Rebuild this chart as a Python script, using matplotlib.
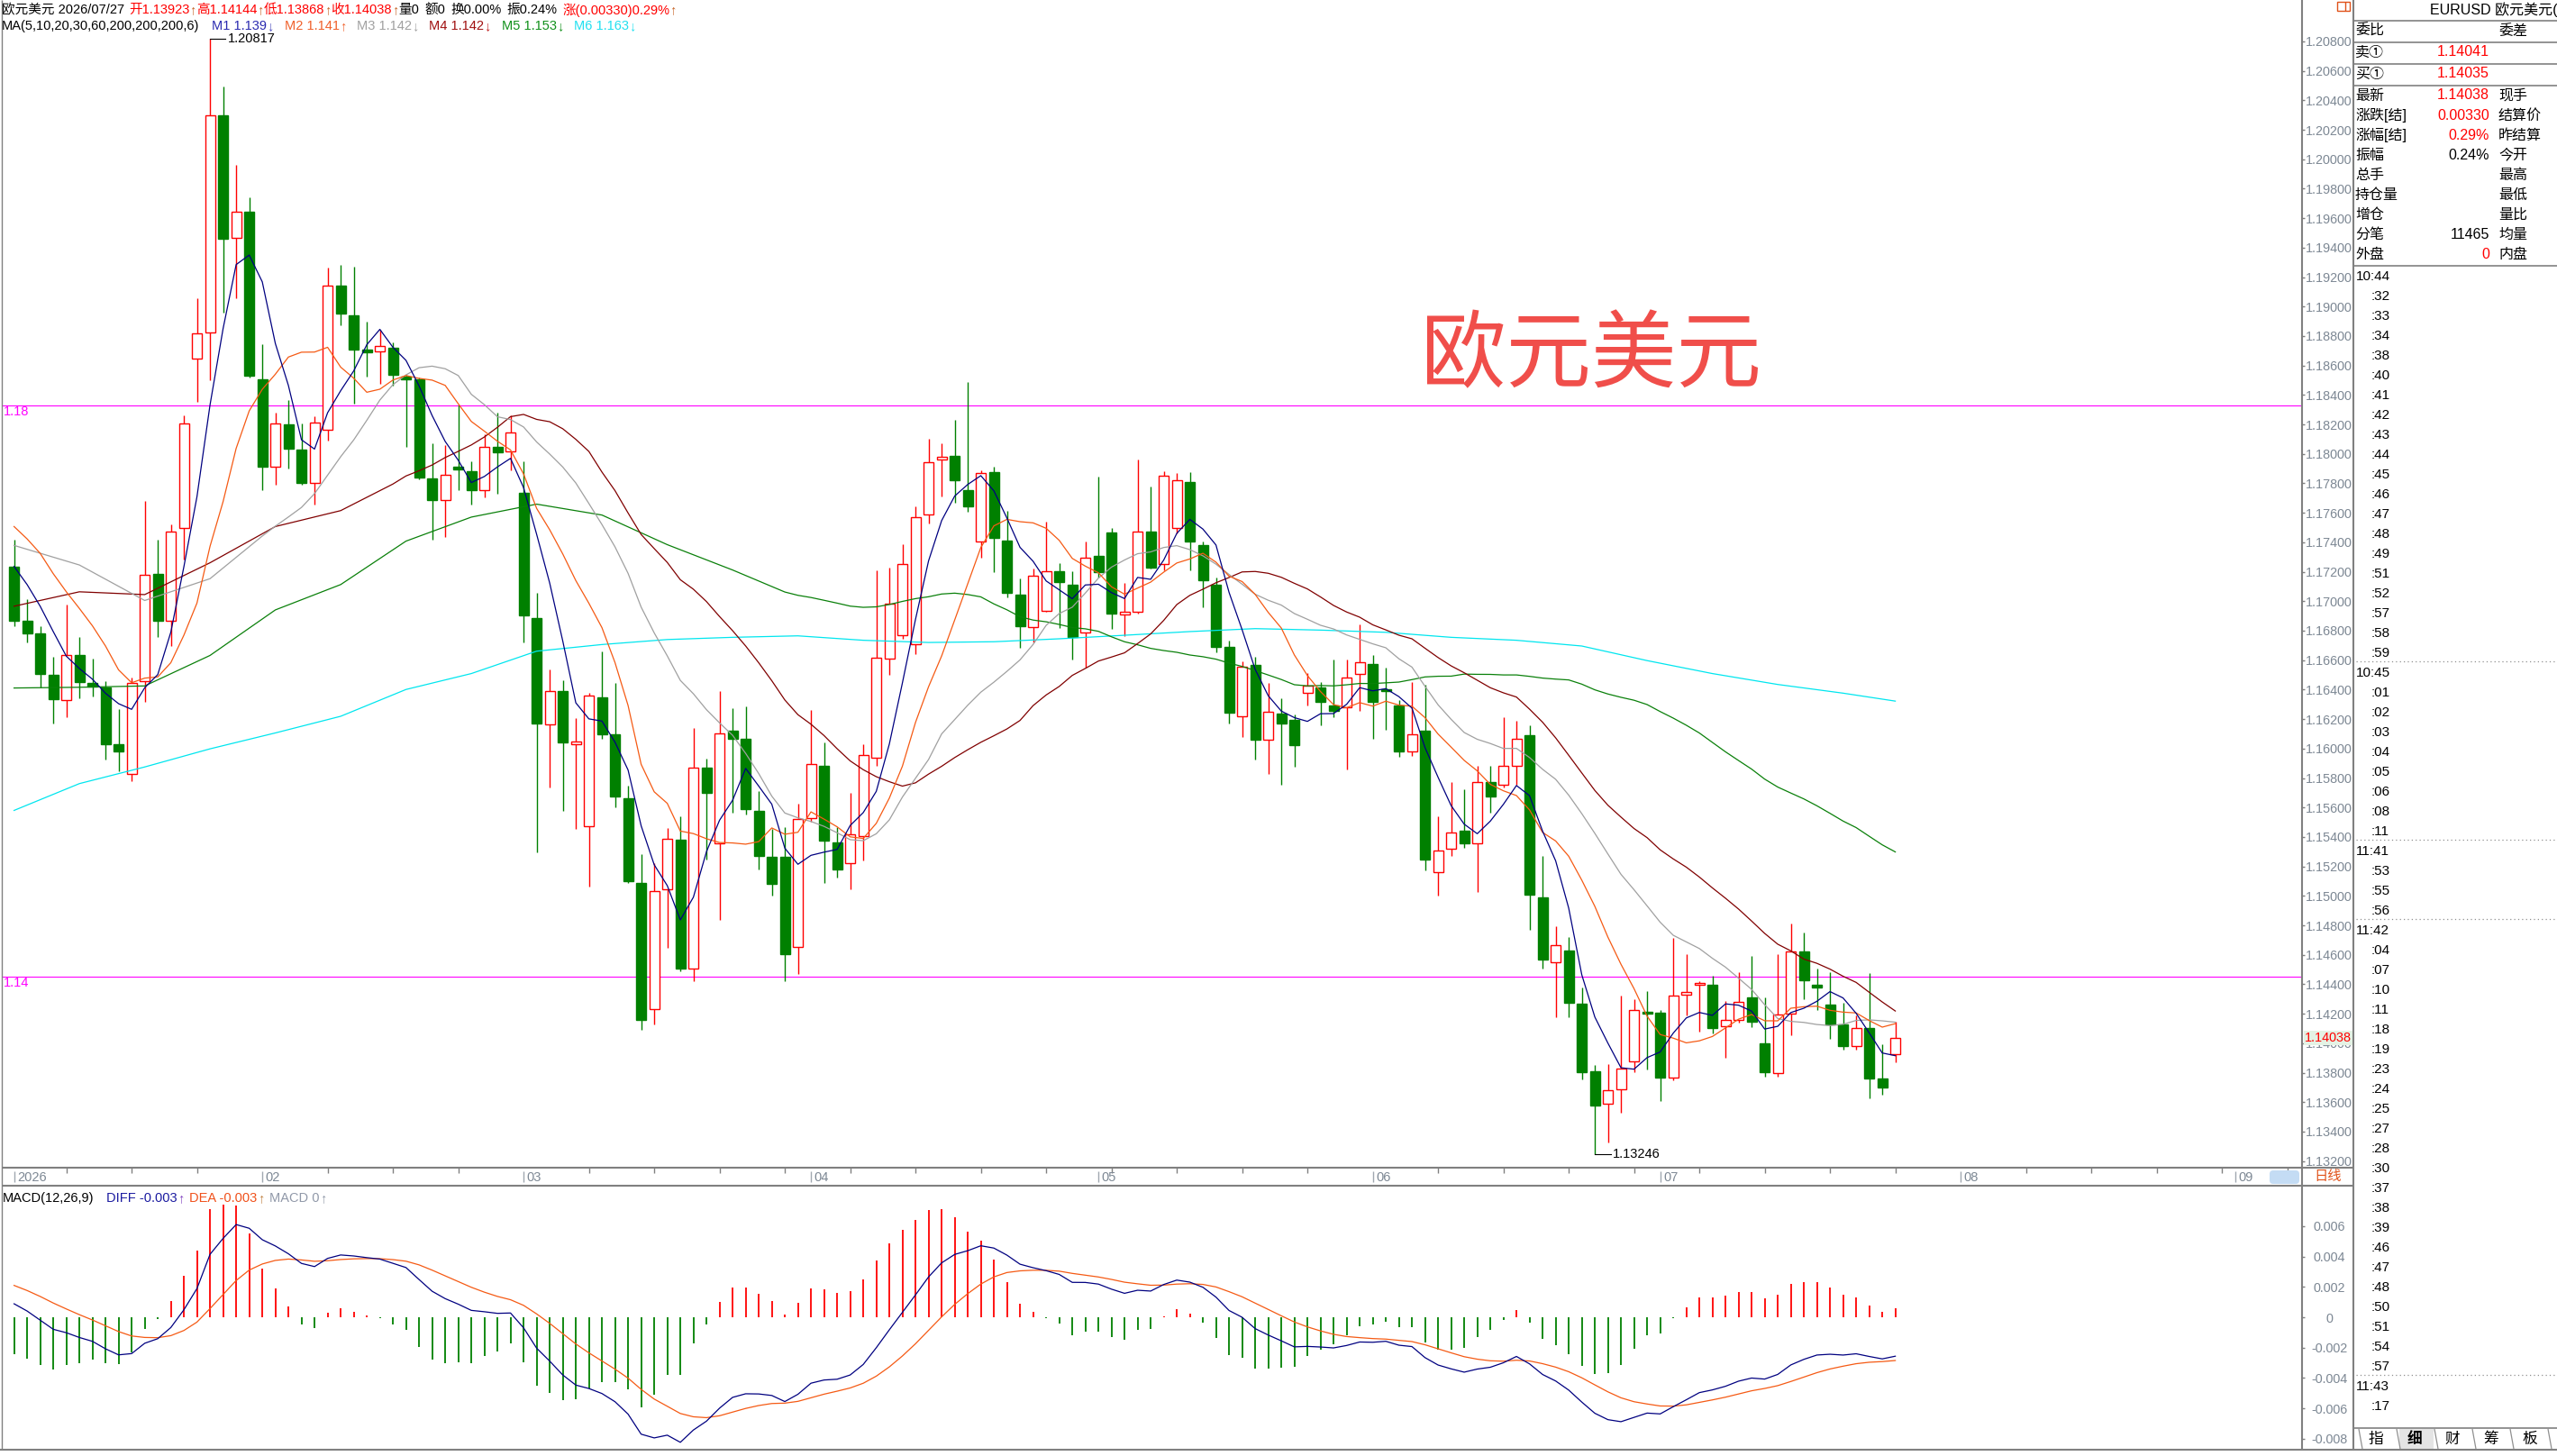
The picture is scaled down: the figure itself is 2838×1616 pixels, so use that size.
import numpy as np
import pandas as pd
import matplotlib
matplotlib.use('Agg')
import matplotlib.pyplot as plt
from matplotlib.patches import Rectangle, FancyBboxPatch

plt.rcParams['font.family'] = ['Liberation Sans', 'Noto Sans CJK SC', 'DejaVu Sans']
plt.rcParams['axes.unicode_minus'] = False

# ---------------- data ----------------
dates = pd.bdate_range('2026-01-06', '2026-07-27')
axis_dates = pd.bdate_range('2026-01-06', '2026-09-30')

opens = [1.17236, 1.16868, 1.16779, 1.16499, 1.16327, 1.16637, 1.16445, 1.16416, 1.16027, 1.15826,
         1.16455, 1.17187, 1.16868, 1.17497, 1.18647, 1.18824, 1.20298, 1.19468, 1.19645, 1.18509,
         1.17915, 1.18200, 1.18028, 1.17802, 1.18165, 1.19143, 1.18942, 1.18711, 1.18696, 1.18721,
         1.18524, 1.18509, 1.17831, 1.17684, 1.17910, 1.17885, 1.17752, 1.18047, 1.18018, 1.17733,
         1.16887, 1.16165, 1.16391, 1.16032, 1.15472, 1.16347, 1.16096, 1.15664, 1.15088, 1.14233,
         1.15044, 1.15383, 1.14504, 1.15870, 1.15359, 1.16121, 1.16067, 1.15575, 1.15265, 1.15265,
         1.14651, 1.15526, 1.15885, 1.15364, 1.15221, 1.15403, 1.15939, 1.16612, 1.16769, 1.16710,
         1.17590, 1.17959, 1.17988, 1.17757, 1.17408, 1.17875, 1.17413, 1.17045, 1.16823, 1.16932,
         1.17202, 1.17113, 1.16789, 1.17310, 1.17467, 1.16912, 1.16927, 1.17472, 1.17251, 1.17497,
         1.17811, 1.17379, 1.17109, 1.16691, 1.16219, 1.16568, 1.16057, 1.16239, 1.16194, 1.16376,
         1.16416, 1.16293, 1.16278, 1.16509, 1.16573, 1.16401, 1.16293, 1.15978, 1.16121, 1.15162,
         1.15320, 1.15442, 1.15359, 1.15772, 1.15757, 1.15885, 1.16091, 1.14990, 1.14548, 1.14626,
         1.14268, 1.13811, 1.13589, 1.13688, 1.13879, 1.14214, 1.14209, 1.13766, 1.14327, 1.14395,
         1.14395, 1.14115, 1.14155, 1.14312, 1.13997, 1.13796, 1.14199, 1.14622, 1.14395, 1.14263,
         1.14125, 1.13978, 1.14101, 1.13761, 1.13923]
highs = [1.17418, 1.17015, 1.16828, 1.16622, 1.16976, 1.16760, 1.16612, 1.16460, 1.16268, 1.16484,
         1.17679, 1.17418, 1.17521, 1.18259, 1.19055, 1.20817, 1.20495, 1.19964, 1.19743, 1.18745,
         1.18283, 1.18367, 1.18205, 1.18254, 1.19266, 1.19286, 1.19271, 1.18898, 1.18843, 1.18760,
         1.18539, 1.18519, 1.18072, 1.18062, 1.18337, 1.17949, 1.18136, 1.18283, 1.18259, 1.17949,
         1.17055, 1.16538, 1.16465, 1.16204, 1.16376, 1.16661, 1.16445, 1.15747, 1.15285, 1.15221,
         1.15462, 1.15541, 1.16140, 1.15934, 1.16391, 1.16273, 1.16288, 1.15713, 1.15452, 1.15467,
         1.15624, 1.16263, 1.16042, 1.15467, 1.15698, 1.16032, 1.17212, 1.17231, 1.17389, 1.17644,
         1.18101, 1.18072, 1.18229, 1.18490, 1.17890, 1.17910, 1.17615, 1.17153, 1.17222, 1.17541,
         1.17261, 1.17202, 1.17403, 1.17846, 1.17497, 1.17123, 1.17959, 1.17777, 1.17880, 1.17870,
         1.17875, 1.17408, 1.17163, 1.16730, 1.16592, 1.16622, 1.16445, 1.16342, 1.16229, 1.16514,
         1.16450, 1.16602, 1.16602, 1.16843, 1.16637, 1.16548, 1.16327, 1.16450, 1.16435, 1.15541,
         1.15772, 1.15723, 1.15885, 1.15885, 1.16214, 1.16189, 1.16155, 1.15270, 1.14794, 1.14720,
         1.14376, 1.13855, 1.13860, 1.14322, 1.14297, 1.14351, 1.14224, 1.14715, 1.14607, 1.14420,
         1.14459, 1.14287, 1.14484, 1.14592, 1.14312, 1.14602, 1.14813, 1.14754, 1.14509, 1.14484,
         1.14273, 1.14189, 1.14474, 1.13992, 1.14144]
lows = [1.16828, 1.16720, 1.16416, 1.16170, 1.16214, 1.16342, 1.16352, 1.15924, 1.15845, 1.15777,
        1.16317, 1.16755, 1.16696, 1.17286, 1.18352, 1.18500, 1.18957, 1.19055, 1.18520, 1.17752,
        1.17792, 1.17900, 1.17792, 1.17654, 1.18092, 1.18873, 1.18342, 1.18524, 1.18475, 1.18465,
        1.18047, 1.17826, 1.17418, 1.17433, 1.17752, 1.17654, 1.17703, 1.17728, 1.17890, 1.16720,
        1.15295, 1.15737, 1.15575, 1.15452, 1.15064, 1.16067, 1.15600, 1.15088, 1.14091, 1.14125,
        1.14646, 1.14489, 1.14420, 1.15246, 1.14838, 1.15565, 1.15550, 1.15182, 1.15005, 1.14420,
        1.14469, 1.15501, 1.15088, 1.15123, 1.15044, 1.15241, 1.15885, 1.16499, 1.16745, 1.16642,
        1.17526, 1.17713, 1.17669, 1.17605, 1.17295, 1.17197, 1.17025, 1.16686, 1.16720, 1.16927,
        1.16818, 1.16607, 1.16548, 1.17163, 1.16814, 1.16764, 1.16917, 1.17222, 1.17212, 1.17458,
        1.17212, 1.16956, 1.16651, 1.16170, 1.16081, 1.15924, 1.15826, 1.15757, 1.15875, 1.16293,
        1.16155, 1.16214, 1.15860, 1.16253, 1.16067, 1.16130, 1.15944, 1.15949, 1.15172, 1.15000,
        1.15270, 1.15329, 1.15025, 1.15565, 1.15737, 1.15752, 1.14769, 1.14509, 1.14174, 1.14179,
        1.13757, 1.13246, 1.13329, 1.13526, 1.13806, 1.13820, 1.13609, 1.13747, 1.14189, 1.14076,
        1.14066, 1.13904, 1.14140, 1.14110, 1.13771, 1.13771, 1.14056, 1.14297, 1.14228, 1.14027,
        1.13958, 1.13958, 1.13624, 1.13648, 1.13868]
closes = [1.16868, 1.16784, 1.16509, 1.16337, 1.16637, 1.16450, 1.16421, 1.16032, 1.15983, 1.16445,
          1.17182, 1.16868, 1.17472, 1.18205, 1.18819, 1.20298, 1.19458, 1.19645, 1.18529, 1.17910,
          1.18205, 1.18033, 1.17802, 1.18214, 1.19143, 1.18952, 1.18706, 1.18691, 1.18735, 1.18534,
          1.18509, 1.17841, 1.17684, 1.17856, 1.17895, 1.17752, 1.18047, 1.18008, 1.18146, 1.16902,
          1.16170, 1.16391, 1.16042, 1.16047, 1.16357, 1.16096, 1.15673, 1.15098, 1.14155, 1.15034,
          1.15388, 1.14509, 1.15870, 1.15698, 1.16101, 1.16067, 1.15590, 1.15270, 1.15084, 1.14607,
          1.15521, 1.15894, 1.15378, 1.15177, 1.15418, 1.15959, 1.16617, 1.16986, 1.17251, 1.17571,
          1.17944, 1.17983, 1.17821, 1.17644, 1.17870, 1.17428, 1.17059, 1.16828, 1.17172, 1.17202,
          1.17128, 1.16755, 1.17295, 1.17197, 1.16917, 1.16927, 1.17472, 1.17231, 1.17851, 1.17821,
          1.17403, 1.17143, 1.16691, 1.16244, 1.16553, 1.16057, 1.16248, 1.16170, 1.16022, 1.16425,
          1.16317, 1.16253, 1.16484, 1.16588, 1.16317, 1.16391, 1.15983, 1.16096, 1.15246, 1.15310,
          1.15428, 1.15354, 1.15772, 1.15673, 1.15880, 1.16067, 1.15010, 1.14568, 1.14666, 1.14273,
          1.13806, 1.13575, 1.13683, 1.13830, 1.14224, 1.14199, 1.13766, 1.14322, 1.14346, 1.14410,
          1.14101, 1.14155, 1.14278, 1.14145, 1.13801, 1.14194, 1.14622, 1.14425, 1.14381, 1.14130,
          1.13978, 1.14101, 1.13761, 1.13698, 1.14038]

# moving-average values read from the chart where history is not visible
ma5_head = [1.17236, 1.17113, 1.16966, 1.16794]
ma10_head = [1.17507, 1.17423, 1.17325, 1.17187, 1.17064, 1.16951, 1.16833, 1.16696, 1.16534]
ma20_head_idx = [0, 5, 10, 15]
ma20_head = [1.17379, 1.17246, 1.17005, 1.17153]
ma30_head_idx = [0, 5, 10, 15, 20, 25]
ma30_head = [1.16966, 1.17064, 1.17045, 1.17261, 1.17507, 1.17615]
ma60_head_idx = [0, 5, 10, 15, 20, 25, 30, 35, 40, 45, 50, 55]
ma60_head = [1.16411, 1.16416, 1.16425, 1.16632, 1.16941, 1.17113, 1.17408, 1.17571, 1.17659,
             1.17585, 1.17384, 1.17212]
ma200_idx = list(range(0, 141, 5)) + [144]
ma200_vals = [1.15580, 1.15762, 1.15875, 1.15998, 1.16106, 1.16219, 1.16401, 1.16509, 1.16661, 1.16706,
              1.16740, 1.16755, 1.16765, 1.16735, 1.16720, 1.16725, 1.16745, 1.16769, 1.16794, 1.16814,
              1.16804, 1.16789, 1.16755, 1.16735, 1.16696, 1.16597, 1.16509, 1.16435, 1.16376, 1.16322]

# MACD state before the first visible bar (estimated from the chart)
ema12_prev = 1.1738
ema26_prev = 1.1724
dea_prev = 0.0024

hlines_price = [1.1833, 1.1445]
hlines_label = ['1.18', '1.14']

price_ticks = [round(1.132 + 0.002 * k, 3) for k in range(39)]
macd_ticks = [0.006, 0.004, 0.002, 0.0, -0.002, -0.004, -0.006, -0.008]
macd_tick_labels = ['0.006', '0.004', '0.002', '0', '-0.002', '-0.004', '-0.006', '-0.008']

times = ['10:44', ':32', ':33', ':34', ':38', ':40', ':41', ':42', ':43', ':44', ':45', ':46', ':47',
         ':48', ':49', ':51', ':52', ':57', ':58', ':59', '10:45', ':01', ':02', ':03', ':04', ':05',
         ':06', ':08', ':11', '11:41', ':53', ':55', ':56', '11:42', ':04', ':07', ':10', ':11', ':18',
         ':19', ':23', ':24', ':25', ':27', ':28', ':30', ':37', ':38', ':39', ':46', ':47', ':48', ':50',
         ':51', ':54', ':57', '11:43', ':17']

quote_rows = [('卖①', '1.14041', '', 'r'), ('买①', '1.14035', '', 'r')]
info_rows = [('最新', '1.14038', '现手', 'r'), ('涨跌[结]', '0.00330', '结算价', 'r'),
             ('涨幅[结]', '0.29%', '昨结算', 'r'), ('振幅', '0.24%', '今开', 'k'),
             ('总手', '', '最高', 'k'), ('持仓量', '', '最低', 'k'), ('增仓', '', '量比', 'k'),
             ('分笔', '11465', '均量', 'k'), ('外盘', '0', '内盘', 'r')]

# ---------------- derived ----------------
n = len(closes)
o = np.array(opens); h = np.array(highs); l = np.array(lows); c = np.array(closes)
x = np.arange(n)
cs = pd.Series(c)

def ma_line(w, head_idx, head_vals):
    r = cs.rolling(w).mean().values
    xs = list(head_idx) + list(range(w - 1, n))
    ys = list(head_vals) + list(r[w - 1:])
    return np.array(xs), np.array(ys)

ma5_x, ma5_y = ma_line(5, range(4), ma5_head)
ma10_x, ma10_y = ma_line(10, range(9), ma10_head)
ma20_x, ma20_y = ma_line(20, ma20_head_idx, ma20_head)
ma30_x, ma30_y = ma_line(30, ma30_head_idx, ma30_head)
ma60_x, ma60_y = ma_line(60, ma60_head_idx, ma60_head)

def ema(vals, span, prev):
    a = 2.0 / (span + 1)
    out = []
    for v in vals:
        prev = prev + a * (v - prev)
        out.append(prev)
    return np.array(out)

diff = ema(c, 12, ema12_prev) - ema(c, 26, ema26_prev)
dea = ema(diff, 9, dea_prev)
hist = 2 * (diff - dea)

# ---------------- layout ----------------
W, H = 2838, 1616
fig = plt.figure(figsize=(W / 100, H / 100), dpi=100)
fig.patch.set_facecolor('white')
PT = 72.0 / 100  # points per pixel

def px_axes(x0, y0, x1, y1, **kw):
    return fig.add_axes([x0 / W, 1 - y1 / H, (x1 - x0) / W, (y1 - y0) / H], **kw)

X0_PX, DX_PX = 15.6, 14.5
L_PX, R_PX = 2, 2555
xlim = ((L_PX - X0_PX) / DX_PX, (R_PX - X0_PX) / DX_PX)

ax = px_axes(L_PX, 0, R_PX, 1296)
axd = px_axes(L_PX, 1296, R_PX, 1316, sharex=ax)
axm = px_axes(L_PX, 1316, R_PX, 1608, sharex=ax)
ov = fig.add_axes([0, 0, 1, 1], zorder=20)
ov.set_xlim(0, W); ov.set_ylim(H, 0); ov.axis('off'); ov.patch.set_alpha(0)

GRAY = '#808080'
TICKC = '#7d8894'
RED = '#ff0000'
GREEN = '#008000'

for a in (ax, axd, axm):
    for s in a.spines.values():
        s.set_visible(False)
    a.set_xlim(*xlim)
    a.tick_params(axis='x', which='both', bottom=False, labelbottom=False)

# ---- price panel ----
ax.set_ylim(1.13155, 1.21081)
ax.yaxis.tick_right()
ax.set_yticks(price_ticks)
ax.set_yticklabels(['%.5f' % t for t in price_ticks])
ax.tick_params(axis='y', direction='out', length=3 * PT, width=1, color=GRAY, pad=1 * PT,
               labelsize=10.4, labelcolor=TICKC)

ax.vlines(x, l, h, colors=[RED if cc >= oo else GREEN for oo, cc in zip(o, c)], lw=1.0, zorder=2)
BW = 0.76
for i in range(n):
    up = c[i] >= o[i]
    col = RED if up else GREEN
    lo, hi = min(o[i], c[i]), max(o[i], c[i])
    if hi - lo < 0.00006:
        ax.hlines((lo + hi) / 2, i - BW / 2, i + BW / 2, colors=col, lw=1.3, zorder=3)
    else:
        ax.add_patch(Rectangle((i - BW / 2, lo), BW, hi - lo, facecolor='white' if up else GREEN,
                               edgecolor=col, lw=1.0, zorder=3))

ax.plot(ma200_idx, ma200_vals, color='#00e6ef', lw=0.9, zorder=4)
ax.plot(ma60_x, ma60_y, color='#0a800a', lw=0.9, zorder=4)
ax.plot(ma30_x, ma30_y, color='#800000', lw=0.9, zorder=4)
ax.plot(ma20_x, ma20_y, color='#a0a0a0', lw=0.9, zorder=4)
ax.plot(ma10_x, ma10_y, color='#f55a14', lw=0.9, zorder=4)
ax.plot(ma5_x, ma5_y, color='#000080', lw=0.9, zorder=4)

for pv, lab in zip(hlines_price, hlines_label):
    ax.axhline(pv, color='#ff00ff', lw=0.8, zorder=1)
    ax.text((4 - X0_PX) / DX_PX + 0.0, pv, lab, color='#ff00ff', fontsize=10.5, va='top', ha='left')

imax = int(np.argmax(h)); imin = int(np.argmin(l))
ax.plot([imax, imax + 1.2], [h[imax], h[imax]], color='black', lw=0.8, zorder=5)
ax.text(imax + 1.35, h[imax], '%.5f' % h[imax], fontsize=10.5, va='center', ha='left', color='black')
ax.plot([imin, imin + 1.2], [l[imin], l[imin]], color='black', lw=0.8, zorder=5)
ax.text(imin + 1.35, l[imin], '%.5f' % l[imin], fontsize=10.5, va='center', ha='left', color='black')

# ---- date strip ----
axd.set_ylim(0, 1)
axd.set_yticks([])
idx_all = np.arange(len(axis_dates))
mondays = [i for i, d in enumerate(axis_dates) if d.weekday() == 0]
month_starts = [0] + [i for i in range(1, len(axis_dates)) if axis_dates[i].month != axis_dates[i - 1].month]
axd.vlines([m for m in mondays if m not in month_starts], 0.72, 1.0, color=GRAY, lw=1)
for m in month_starts:
    if m > xlim[1] - 1:
        continue
    lab = str(axis_dates[m].year) if m == 0 else '%02d' % axis_dates[m].month
    axd.vlines(m, 0.2, 0.8, color='#a0a8b0', lw=1)
    axd.text(m + 0.25, 0.45, lab, color=TICKC, fontsize=10.5, va='center', ha='left')

# ---- MACD panel ----
axm.set_ylim(-0.008665, 0.008665)
axm.yaxis.tick_right()
axm.set_yticks(macd_ticks)
axm.set_yticklabels(macd_tick_labels)
axm.tick_params(axis='y', direction='out', length=3 * PT, width=1, color=GRAY, pad=27 * PT,
                labelsize=10.4, labelcolor=TICKC)
for t in axm.get_yticklabels():
    t.set_horizontalalignment('center')
axm.vlines(x, 0, hist, colors=[RED if v >= 0 else GREEN for v in hist], lw=1.3)
axm.plot(x, dea, color='#f55a14', lw=0.9)
axm.plot(x, diff, color='#000080', lw=0.9)

# ---------------- overlay decorations ----------------
def ln(x0, y0, x1, y1, color=GRAY, lw=1.0, ls='-'):
    ov.plot([x0, x1], [y0, y1], color=color, lw=lw, ls=ls, solid_capstyle='butt')

ln(2, 0, 2, 1608)
ln(2555, 0, 2555, 1608, lw=1.5)
ln(2612, 0, 2612, 1608, lw=1.5)
ln(2, 1296, 2612, 1296, lw=1.5)
ln(2, 1316, 2612, 1316, lw=1.5)
ln(0, 1609, 2838, 1609, lw=1.5)

ov.add_patch(FancyBboxPatch((2519, 1299), 33, 15, boxstyle='round,pad=0,rounding_size=4',
                            fc='#c4dcf4', ec='none'))
ov.text(2584, 1306, '日线', color='#e0521a', fontsize=11, ha='center', va='center')
ov.add_patch(Rectangle((2594, 2), 14, 10, fill=False, ec='#e0521a', lw=1))
ln(2603, 2, 2603, 12, color='#e0521a')

ov.text(2558, 1152, '1.14038', color=RED, fontsize=10.4, ha='left', va='center',
        bbox=dict(fc='#e4f2e4', ec='none', pad=0.6))

ov.text(1766, 396, '欧元美元', color='#f04e4a', fontsize=68, ha='center', va='center',
        family=['Noto Sans CJK SC'])

renderer = fig.canvas.get_renderer()

def seq_text(x0, y, parts, fs):
    xx = x0
    for s, col, gap in parts:
        t = ov.text(xx, y, s, color=col, fontsize=fs, ha='left', va='center')
        xx += t.get_window_extent(renderer=renderer).width + gap
    return xx

ARW = '#c86428'
seq_text(2, 11, [('欧元美元 2026/07/27', 'black', 5), ('开1.13923', RED, 0), ('↑', ARW, 0),
                 ('高1.14144', RED, 0), ('↑', ARW, 0), ('低1.13868', RED, 0), ('↑', ARW, 0),
                 ('收1.14038', RED, 0), ('↑', ARW, 0), ('量0', 'black', 6), ('额0', 'black', 6),
                 ('换0.00%', 'black', 6), ('振0.24%', 'black', 6), ('涨(0.00330)0.29%', RED, 0),
                 ('↑', ARW, 0)], 10.5)
seq_text(2, 29, [('MA(5,10,20,30,60,200,200,200,6)', 'black', 14), ('M1 1.139', '#2a2ab0', 0),
                 ('↓', '#5050c0', 12), ('M2 1.141', '#f0602a', 0), ('↑', '#f0602a', 12),
                 ('M3 1.142', '#a0a0a0', 0), ('↓', '#a0a0a0', 12), ('M4 1.142', '#a01010', 0),
                 ('↓', '#c02020', 12), ('M5 1.153', '#10901a', 0), ('↓', '#10901a', 12),
                 ('M6 1.163', '#20e0f0', 0), ('↓', '#20e0f0', 0)], 10.5)
seq_text(3, 1330, [('MACD(12,26,9)', 'black', 14), ('DIFF -0.003', '#1a1aa0', 0), ('↑', '#8040c0', 6),
                   ('DEA -0.003', '#f0501a', 0), ('↑', '#c08040', 6), ('MACD 0', '#9098a8', 0),
                   ('↑', '#9098a8', 0)], 10.5)

# ---- right panel ----
RP = 2612
ov.text(2697, 11, 'EURUSD 欧元美元(外汇)', fontsize=11.5, ha='left', va='center', color='black')
for yy in (23, 47, 71, 95, 295):
    ln(RP, yy, W, yy, lw=1.2)
ov.text(2614, 34, '委比', fontsize=11.5, ha='left', va='center')
ov.text(2773, 34, '委差', fontsize=11.5, ha='left', va='center')
for k, (lab, val, lab2, vc) in enumerate(quote_rows):
    yy = 58 + 24 * k
    ov.text(2614, yy, lab, fontsize=11.5, ha='left', va='center')
    ov.text(2763, yy, val, fontsize=11.5, ha='right', va='center', color=RED if vc == 'r' else 'black')
for k, (lab, val, lab2, vc) in enumerate(info_rows):
    yy = 106 + 22.1 * k
    ov.text(2614, yy, lab, fontsize=11.5, ha='left', va='center')
    ov.text(2763, yy, val, fontsize=11.5, ha='right', va='center', color=RED if vc == 'r' else 'black')
    ov.text(2773, yy, lab2, fontsize=11.5, ha='left', va='center')

for k, t in enumerate(times):
    yy = 307 + 22 * k
    if t.startswith(':'):
        ov.text(2632, yy, t, fontsize=11, ha='left', va='center')
    else:
        ov.text(2615, yy, t, fontsize=11, ha='left', va='center')
        if k > 0:
            ln(2615, yy - 13, W, yy - 13, color='#909090', lw=0.9, ls=(0, (1, 2.5)))

ln(RP, 1585, W, 1585, lw=1.2)
ov.add_patch(Rectangle((2663, 1586), 38, 22, fc='#e4e4e4', ec='none'))
for tx, lab in zip([2637, 2680, 2722, 2765, 2808], ['指', '细', '财', '筹', '板']):
    ov.text(tx, 1597, lab, fontsize=12, ha='center', va='center',
            fontweight='bold' if lab == '细' else 'normal')
for tx in [2618, 2660, 2702, 2744, 2786, 2828]:
    ln(tx, 1586, tx + 4, 1608, color='#909090', lw=0.9)

fig.savefig('out.png', dpi=100, facecolor='white')
